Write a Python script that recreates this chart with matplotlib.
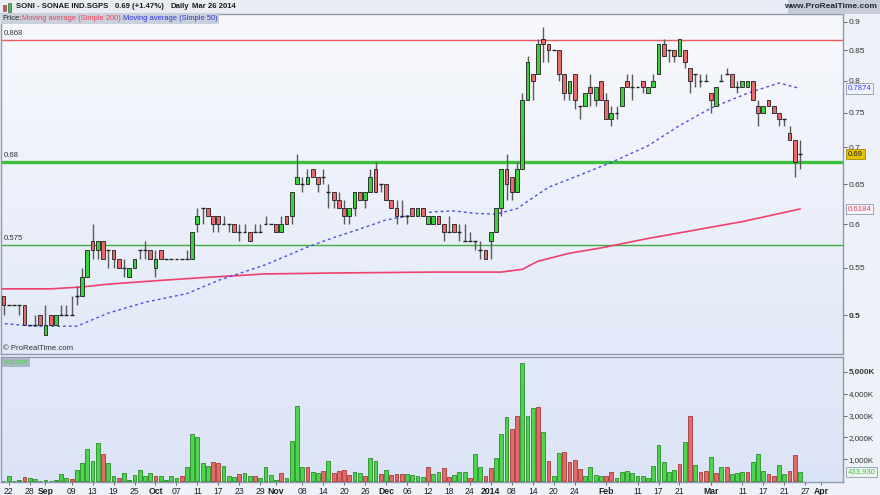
import numpy as np
import pandas as pd
import matplotlib
matplotlib.use('Agg')
import matplotlib.pyplot as plt
import matplotlib.transforms as mtrans
from matplotlib.patches import Rectangle

plt.rcParams['font.family'] = ['Liberation Sans', 'DejaVu Sans']

# ---------------- data ----------------
first_day = '2013-08-21'
holidays = ['2013-12-25', '2013-12-26', '2014-01-01']

opens = [0.52,0.51,0.51,0.51,0.51,0.49,0.49,0.50,0.48,0.50,0.49,0.50,0.50,0.50,0.52,0.52,0.54,0.58,0.57,0.58,
         0.57,0.57,0.56,0.55,0.54,0.55,0.57,0.57,0.57,0.55,0.57,0.56,0.56,0.56,0.56,0.56,0.56,0.60,0.62,0.62,
         0.61,0.61,0.60,0.60,0.60,0.59,0.59,0.59,0.59,0.59,0.60,0.60,0.60,0.59,0.61,0.61,0.65,0.65,0.65,0.67,
         0.66,0.66,0.64,0.64,0.63,0.62,0.61,0.62,0.64,0.63,0.64,0.67,0.65,0.65,0.63,0.62,0.61,0.61,0.62,0.61,
         0.62,0.60,0.60,0.61,0.60,0.59,0.60,0.59,0.58,0.58,0.58,0.57,0.57,0.58,0.59,0.62,0.67,0.66,0.64,0.67,
         0.77,0.81,0.81,0.87,0.86,0.85,0.85,0.81,0.78,0.81,0.76,0.76,0.79,0.77,0.80,0.77,0.74,0.75,0.76,0.80,
         0.79,0.79,0.80,0.78,0.79,0.81,0.86,0.85,0.85,0.84,0.85,0.82,0.81,0.80,0.80,0.78,0.76,0.80,0.81,0.81,
         0.79,0.79,0.79,0.80,0.76,0.75,0.77,0.76,0.75,0.74,0.72,0.71,0.69]
highs = [0.52,0.51,0.51,0.51,0.51,0.49,0.50,0.50,0.51,0.50,0.50,0.51,0.51,0.52,0.53,0.55,0.57,0.60,0.58,0.58,
         0.57,0.57,0.56,0.56,0.55,0.56,0.57,0.58,0.57,0.57,0.57,0.56,0.56,0.56,0.56,0.57,0.59,0.62,0.62,0.62,
         0.61,0.61,0.61,0.60,0.60,0.60,0.60,0.59,0.60,0.60,0.61,0.60,0.60,0.61,0.61,0.64,0.69,0.66,0.67,0.67,
         0.66,0.67,0.65,0.64,0.64,0.63,0.62,0.64,0.64,0.64,0.67,0.68,0.65,0.65,0.63,0.63,0.63,0.61,0.62,0.62,
         0.62,0.61,0.61,0.61,0.60,0.61,0.60,0.60,0.60,0.59,0.58,0.58,0.57,0.59,0.62,0.67,0.69,0.66,0.68,0.78,
         0.84,0.81,0.87,0.89,0.86,0.85,0.85,0.81,0.80,0.81,0.76,0.78,0.81,0.79,0.80,0.78,0.76,0.76,0.79,0.81,
         0.81,0.79,0.80,0.79,0.81,0.86,0.87,0.85,0.85,0.87,0.85,0.82,0.81,0.81,0.81,0.78,0.79,0.81,0.82,0.81,
         0.80,0.80,0.80,0.80,0.77,0.76,0.77,0.76,0.75,0.74,0.73,0.71,0.71]
lows = [0.50,0.51,0.51,0.50,0.49,0.49,0.49,0.49,0.48,0.49,0.49,0.50,0.50,0.50,0.51,0.52,0.54,0.56,0.56,0.56,
        0.55,0.55,0.55,0.54,0.54,0.55,0.56,0.56,0.56,0.54,0.56,0.56,0.56,0.56,0.56,0.56,0.56,0.59,0.60,0.61,
        0.59,0.59,0.60,0.59,0.59,0.58,0.59,0.58,0.59,0.59,0.60,0.60,0.59,0.59,0.60,0.60,0.65,0.64,0.65,0.66,
        0.64,0.65,0.62,0.62,0.62,0.60,0.60,0.61,0.63,0.62,0.64,0.64,0.64,0.63,0.62,0.60,0.61,0.60,0.61,0.61,
        0.61,0.60,0.60,0.60,0.58,0.59,0.59,0.58,0.58,0.58,0.57,0.56,0.56,0.56,0.59,0.61,0.63,0.63,0.64,0.67,
        0.77,0.77,0.81,0.83,0.83,0.85,0.80,0.77,0.77,0.755,0.74,0.76,0.76,0.76,0.77,0.74,0.73,0.74,0.76,0.79,
        0.77,0.79,0.78,0.78,0.79,0.81,0.84,0.83,0.83,0.84,0.82,0.78,0.79,0.79,0.80,0.75,0.76,0.80,0.81,0.79,
        0.78,0.79,0.79,0.77,0.73,0.75,0.76,0.75,0.73,0.73,0.71,0.66,0.67]
closes = [0.51,0.51,0.51,0.51,0.49,0.49,0.49,0.49,0.49,0.49,0.50,0.50,0.50,0.50,0.52,0.54,0.57,0.57,0.58,0.56,
          0.57,0.56,0.55,0.55,0.55,0.56,0.57,0.57,0.56,0.56,0.56,0.56,0.56,0.56,0.56,0.56,0.59,0.61,0.62,0.61,
          0.60,0.60,0.60,0.60,0.59,0.59,0.59,0.58,0.59,0.59,0.60,0.60,0.59,0.60,0.60,0.64,0.66,0.65,0.66,0.66,
          0.65,0.66,0.64,0.63,0.62,0.61,0.62,0.64,0.63,0.64,0.66,0.64,0.65,0.63,0.62,0.61,0.61,0.61,0.61,0.62,
          0.61,0.61,0.61,0.60,0.59,0.59,0.59,0.59,0.58,0.58,0.58,0.57,0.56,0.59,0.62,0.67,0.65,0.64,0.67,0.77,
          0.83,0.80,0.86,0.86,0.85,0.85,0.81,0.78,0.80,0.77,0.76,0.78,0.78,0.79,0.77,0.74,0.75,0.75,0.79,0.79,
          0.79,0.79,0.79,0.79,0.80,0.86,0.84,0.85,0.84,0.87,0.83,0.80,0.81,0.80,0.80,0.77,0.79,0.80,0.81,0.79,
          0.79,0.80,0.80,0.77,0.75,0.76,0.76,0.75,0.74,0.74,0.71,0.68,0.69]
volumes_k = [30,258,20,60,200,137,90,20,60,20,60,320,137,106,530,836,1460,912,1730,1230,
             836,258,167,365,60,274,500,243,365,228,228,45,228,137,243,650,2160,2000,820,684,
             866,850,684,243,182,334,365,228,228,137,638,274,45,365,137,1820,3450,650,638,440,
             365,456,912,365,456,530,274,440,365,243,1050,942,320,530,274,320,320,320,274,243,
             198,638,330,440,608,182,289,410,410,152,1231,654,243,623,1040,2160,2920,2370,2965,5380,
             2965,3345,3375,2250,942,243,1277,1322,882,957,562,258,654,289,228,228,440,152,410,456,
             365,228,228,137,684,1650,866,440,530,775,1778,2965,730,410,456,1094,365,654,654,320,
             365,410,440,866,1246,456,320,228,730,334,456,1186,434]
vol_colors = ("ggggrggggggggrgggggrggrggggggrggggrgggggrrgggrggrggggrggggrggrgrrrrggrggrgrrrggggrggrrgggrggrrgggrrgggrgrggrrrrggggrrggggggggggggrgrgrrgrgrgggrgggrrggrrgrrg")

ma50_dates = ['2013-08-20','2013-08-29','2013-09-10','2013-09-18','2013-09-27','2013-10-09','2013-10-17',
              '2013-10-30','2013-11-11','2013-11-18','2013-11-22','2013-12-02','2013-12-09','2013-12-13',
              '2013-12-19','2013-12-27','2014-01-03','2014-01-09','2014-01-17','2014-01-27','2014-02-04',
              '2014-02-13','2014-02-21','2014-03-03','2014-03-12','2014-03-20','2014-03-26']
ma50_vals = [0.492,0.489,0.489,0.502,0.513,0.522,0.536,0.553,0.573,0.584,0.592,0.605,0.611,0.615,
             0.616,0.613,0.612,0.619,0.646,0.662,0.679,0.702,0.731,0.757,0.780,0.796,0.7874]
ma200_dates = ['2013-08-20','2013-09-03','2013-09-11','2013-09-18','2013-10-02','2013-10-14','2013-10-30',
               '2013-11-18','2013-12-13','2014-01-06','2014-01-10','2014-01-15','2014-01-23','2014-01-31',
               '2014-02-13','2014-02-27','2014-03-11','2014-03-26']
ma200_vals = [0.527,0.527,0.529,0.532,0.536,0.539,0.543,0.544,0.545,0.545,0.548,0.557,0.566,0.572,
              0.583,0.594,0.603,0.6184]

levels = [0.868, 0.68, 0.575]
level_labels = ['0.868', '0.68', '0.575']

price_ticks = [0.5, 0.55, 0.6, 0.65, 0.7, 0.75, 0.8, 0.85, 0.9]
price_tick_labels = ['0.5', '0.55', '0.6', '0.65', '0.7', '0.75', '0.8', '0.85', '0.9']
vol_ticks = [1e6, 2e6, 3e6, 4e6, 5e6]
vol_tick_labels = ['1,000K', '2,000K', '3,000K', '4,000K', '5,000K']

date_ticks = ['2013-08-22','2013-08-28','2013-09-02','2013-09-09','2013-09-13','2013-09-19','2013-09-25',
              '2013-10-01','2013-10-07','2013-10-11','2013-10-17','2013-10-23','2013-10-29','2013-11-01',
              '2013-11-08','2013-11-14','2013-11-20','2013-11-26','2013-12-02','2013-12-06','2013-12-12',
              '2013-12-18','2013-12-24','2014-01-02','2014-01-08','2014-01-14','2014-01-20','2014-01-24',
              '2014-02-03','2014-02-11','2014-02-17','2014-02-21','2014-03-03','2014-03-11','2014-03-17',
              '2014-03-21','2014-03-27','2014-04-01']
date_tick_labels = ['22','28','Sep','09','13','19','25','Oct','07','11','17','23','29','Nov','08','14','20',
                    '26','Dec','06','12','18','24','2014','08','14','20','24','Feb','11','17','21','Mar',
                    '11','17','21','27','Apr']
bold_labels = {'Sep', 'Oct', 'Nov', 'Dec', '2014', 'Feb', 'Mar', 'Apr'}

last_price = 0.69
last_volume = 433930

# ---------------- calendar ----------------
cal = pd.bdate_range('2013-08-19', '2014-04-30')
cal = cal[~cal.isin(pd.to_datetime(holidays))]
pos = {d.strftime('%Y-%m-%d'): k for k, d in enumerate(cal)}
x0 = pos[first_day]
n = len(closes)
xs = x0 + np.arange(n)

W, H = 880, 495
fig = plt.figure(figsize=(8.8, 4.95), dpi=100)
fig.patch.set_facecolor('#eef1f8')

def fx(x):
    return x / W

def fy(y):
    return 1 - y / H

PX_PER_DAY = 5.24
RIGHT = 843
xlim = (x0 - (3.5 - 1) / PX_PER_DAY, x0 + (RIGHT - 3.5) / PX_PER_DAY)

def gradient(ax, c1, c2):
    c1 = np.array(matplotlib.colors.to_rgb(c1))
    c2 = np.array(matplotlib.colors.to_rgb(c2))
    t = np.linspace(0, 1, 64)[:, None]
    img = (c1[None, :] * (1 - t) + c2[None, :] * t)[:, None, :]
    ax.imshow(img, extent=(0, 1, 0, 1), transform=ax.transAxes, aspect='auto', zorder=0,
              interpolation='bilinear')

spine_col = '#8e9aac'

# ---------------- price panel ----------------
ax = fig.add_axes([fx(1), fy(354), fx(RIGHT) - fx(1), fy(13.5) - fy(354)])
ax.set_yscale('log')
gradient(ax, '#f8f9fd', '#e2e9f8')
ax.set_xlim(*xlim)
ax.set_ylim(0.4625, 0.915)
for s in ax.spines.values():
    s.set_color(spine_col)
    s.set_linewidth(1)

bt = mtrans.blended_transform_factory(ax.transAxes, ax.transData)
lvl_cols = ['#f05a5a', '#3cc03c', '#3cb03c']
lvl_lw = [1.0, 2.4, 1.0]
for v, lab, c, lw in zip(levels, level_labels, lvl_cols, lvl_lw):
    ax.axhline(v, color=c, lw=lw, zorder=2)
    ax.text(0.003, v * 1.006, lab, transform=bt, fontsize=5.6, color='#333333', va='bottom', ha='left')

ax.plot([pos[d] for d in ma200_dates], ma200_vals, color='#f0406e', lw=1.2, zorder=2)
ax.plot([pos[d] for d in ma50_dates], ma50_vals, color='#4b4bf0', lw=1.0, ls=(0, (2, 2.2)), zorder=2)

o = np.array(opens); h = np.array(highs); l = np.array(lows); c = np.array(closes)
ax.vlines(xs, l, h, color='#5a5a5a', lw=1.0, zorder=3)
bw = 0.72
for xi, oi, ci in zip(xs, o, c):
    if abs(ci - oi) < 1e-9:
        ax.hlines(ci, xi - bw / 2, xi + bw / 2, color='#222222', lw=1.0, zorder=4)
    else:
        col = '#3fd03f' if ci > oi else '#e86a6a'
        ax.add_patch(Rectangle((xi - bw / 2, min(oi, ci)), bw, abs(ci - oi), facecolor=col,
                               edgecolor='#1e1e1e', lw=0.6, zorder=4))

ax.yaxis.tick_right()
ax.yaxis.set_minor_locator(matplotlib.ticker.NullLocator())
ax.set_yticks(price_ticks)
ax.set_yticklabels(price_tick_labels)
for t in ax.get_yticklabels():
    t.set_fontsize(6.0)
    t.set_color('#333333')
    if t.get_text() == '0.5':
        t.set_fontweight('bold')
ax.tick_params(axis='y', which='both', length=3, width=0.7, color='#666666', pad=1)
ax.set_xticks([])

def tag(axis, trans, yv, text, fc, tc, ec):
    axis.text(1.006, yv, text, transform=trans, fontsize=5.6, color=tc, va='center', ha='left',
              bbox=dict(boxstyle='square,pad=0.2', fc=fc, ec=ec, lw=0.6), zorder=10, clip_on=False)

tag(ax, bt, ma50_vals[-1], f'{ma50_vals[-1]:.4f}', '#eef2fc', '#3a3aff', '#8e9aac')
tag(ax, bt, last_price, f'{last_price:.2f}', '#e8c200', '#222222', '#a08a00')
tag(ax, bt, ma200_vals[-1], f'{ma200_vals[-1]:.4f}', '#f4f4fa', '#e04060', '#8e9aac')

ax.text(0.002, 0.005, '\u00a9 ProRealTime.com', transform=ax.transAxes, fontsize=5.6, color='#333333',
        va='bottom', ha='left')

# ---------------- volume panel ----------------
av = fig.add_axes([fx(1), fy(482), fx(RIGHT) - fx(1), fy(357) - fy(482)])
gradient(av, '#e3e9f8', '#dbe4f6')
av.set_xlim(*xlim)
av.set_ylim(-36000, 5671000)
for s in av.spines.values():
    s.set_color(spine_col)
    s.set_linewidth(1)
vols = np.array(volumes_k) * 1000.0
vcols = ['#4cd44c' if ch == 'g' else '#e46a6a' for ch in vol_colors]
vedges = ['#2a8e2a' if ch == 'g' else '#a83a3a' for ch in vol_colors]
av.bar(xs, vols, width=0.72, color=vcols, edgecolor=vedges, lw=0.6, zorder=3)
av.yaxis.tick_right()
av.set_yticks(vol_ticks)
av.set_yticklabels(vol_tick_labels)
for t in av.get_yticklabels():
    t.set_fontsize(5.8)
    t.set_color('#333333')
    if t.get_text() == '5,000K':
        t.set_fontweight('bold')
av.tick_params(axis='y', length=3, width=0.7, color='#666666', pad=1)
avt = mtrans.blended_transform_factory(av.transAxes, av.transData)
tag(av, avt, last_volume, f'{last_volume:,}', '#eef4ee', '#44c044', '#8e9aac')
av.text(0.002, 0.985, 'Volume', transform=av.transAxes, fontsize=5.6, color='#5cd05c', va='top', ha='left',
        bbox=dict(boxstyle='square,pad=0.15', fc='#a8b6c6', ec='none'), zorder=10)

av.set_xticks([pos[d] for d in date_ticks])
av.set_xticklabels(date_tick_labels)
for t in av.get_xticklabels():
    t.set_fontsize(6.2)
    t.set_color('#222222')
    if t.get_text() in bold_labels:
        t.set_fontweight('bold')
av.tick_params(axis='x', length=2.5, width=0.7, color='#666666', pad=1)

# ---------------- header ----------------
fig.add_artist(Rectangle((0, fy(13.5)), 1, 1 - fy(13.5), transform=fig.transFigure, fc='#e9ecf2', ec='none', zorder=0))
fig.add_artist(Rectangle((fx(788), fy(13.5)), 1 - fx(788), 1 - fy(13.5), transform=fig.transFigure,
                         fc='#c6cdd8', ec='none', zorder=1))
fig.text(fx(877), fy(7), 'www.ProRealTime.com', fontsize=6.0, fontweight='bold', color='#222a36',
         ha='right', va='center')
# small candle icon
fig.add_artist(Rectangle((fx(3), fy(11)), fx(3), 6 / H, transform=fig.transFigure, fc='#e05050', ec='#444', lw=0.4))
fig.add_artist(Rectangle((fx(8), fy(12)), fx(3), 9 / H, transform=fig.transFigure, fc='#40c040', ec='#444', lw=0.4))
hdr = dict(fontsize=5.6, fontweight='bold', color='#1a1a1a', va='center')
fig.text(fx(16), fy(7), 'SONI - SONAE IND.SGPS', **hdr)
fig.text(fx(115), fy(7), '0.69 (+1.47%)', **hdr)
fig.text(fx(170), fy(7), 'Daily', **hdr)
fig.text(fx(192), fy(7), 'Mar 26 2014', **hdr)

# legend strip
fig.add_artist(Rectangle((fx(1), fy(23.5)), fx(218), 10 / H, transform=fig.transFigure, fc='#c9d1dc', ec='none', zorder=5))
leg = dict(fontsize=5.4, va='center', zorder=6)
fig.text(fx(2), fy(18.5), 'Price:', color='#222222', **leg)
fig.text(fx(22), fy(18.5), 'Moving average (Simple 200)', color='#e8405a', **leg)
fig.text(fx(123), fy(18.5), 'Moving average (Simple 50)', color='#3030e0', **leg)

fig.savefig('out.png', dpi=100, facecolor=fig.get_facecolor())
